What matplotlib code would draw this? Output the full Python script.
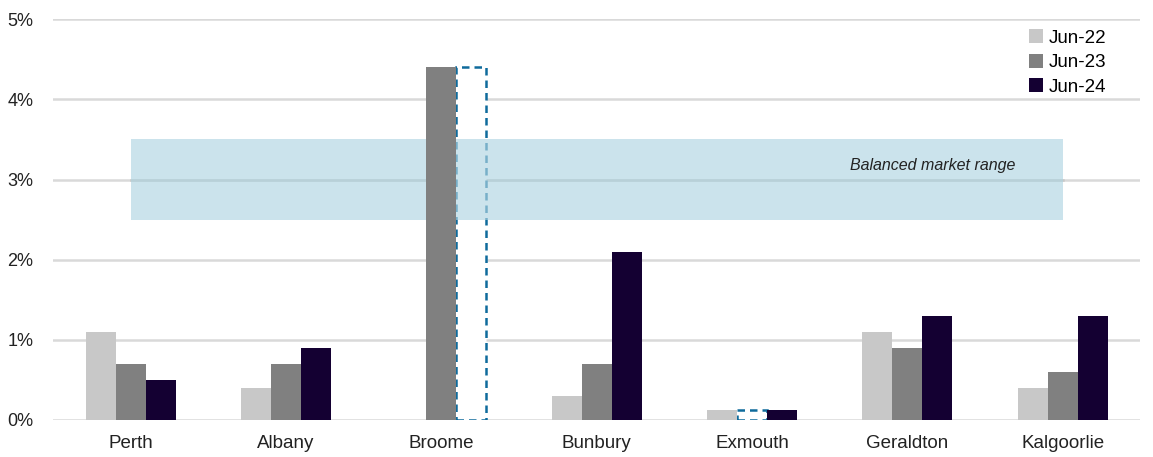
import matplotlib
matplotlib.use("Agg")
import matplotlib.pyplot as plt
import numpy as np

# Rental vacancy rates by regional centre
towns = ["Perth", "Albany", "Broome", "Bunbury", "Exmouth", "Geraldton", "Kalgoorlie"]
series_names = ["Jun-22", "Jun-23", "Jun-24"]
jun22 = [1.1, 0.4, None, 0.3, 0.12, 1.1, 0.4]
jun23 = [0.7, 0.7, 4.4, 0.7, 0.13, 0.9, 0.6]
jun24 = [0.5, 0.9, 4.4, 2.1, 0.12, 1.3, 1.3]
# series entries shown as dashed outlines (estimated / unavailable)
dashed = {("Jun-24", "Broome"), ("Jun-23", "Exmouth")}
balanced_low, balanced_high = 2.5, 3.5
balanced_mid = 3.0
yticks = [0, 1, 2, 3, 4, 5]

colors = ["#c8c8c8", "#808080", "#140032"]
dash_color = "#0f6b9c"

plt.rcParams["font.family"] = ["Liberation Sans", "DejaVu Sans"]

fig = plt.figure(figsize=(11.53, 4.57), dpi=100)
ax = fig.add_axes([0.046, 0.081, 0.943, 0.877])

x = np.arange(len(towns))
w = 0.193
offsets = [-w, 0, w]

for name, vals, col, off in zip(series_names, [jun22, jun23, jun24], colors, offsets):
    for i, v in enumerate(vals):
        if v is None:
            continue
        if (name, towns[i]) in dashed:
            ax.bar(x[i] + off, v, w, facecolor="white", edgecolor=dash_color,
                   linewidth=1.8, linestyle=(0, (3, 2)), zorder=3)
        else:
            ax.bar(x[i] + off, v, w, color=col, zorder=5)
    ax.bar(np.nan, 0, w, color=col, label=name)

# Balanced market band with its midline
ax.fill_between([x[0], x[-1]], balanced_low, balanced_high, color="#b0d5e2",
                alpha=0.65, linewidth=0, zorder=4)
ax.plot([x[0], x[-1]], [balanced_mid, balanced_mid], color="#c8c8c8",
        linewidth=1.8, zorder=2)
ax.text(4.63, 3.18, "Balanced market range", style="italic", fontsize=11.5,
        ha="left", va="center", color="#222222", zorder=6)

ax.set_xlim(-0.5, len(towns) - 0.5)
ax.set_ylim(0, 5)
ax.set_yticks(yticks)
ax.set_yticklabels([f"{t}%" for t in yticks])
ax.set_xticks(x)
ax.set_xticklabels(towns)
ax.tick_params(length=0, labelsize=13.5, colors="#222222")
ax.tick_params(axis="x", pad=11)
ax.tick_params(axis="y", labelsize=13, pad=14)
ax.grid(axis="y", color="#d9d9d9", linewidth=1.8, zorder=1)
ax.set_axisbelow(True)
for s in ax.spines.values():
    s.set_visible(False)

leg = ax.legend(loc="upper right", bbox_to_anchor=(0.984, 1.017), frameon=False,
                fontsize=13.5, handlelength=0.75, handleheight=0.75,
                handletextpad=0.3, labelspacing=0.38)

fig.savefig("out.png", dpi=100)
